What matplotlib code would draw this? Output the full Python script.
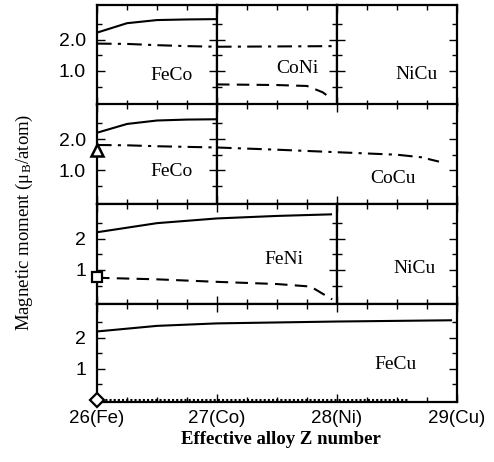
import matplotlib
matplotlib.use("Agg")
import matplotlib.pyplot as plt
from matplotlib.ticker import MultipleLocator, FixedLocator

plt.rcParams['font.family'] = ['Liberation Serif', 'DejaVu Serif']

# data
# panel 1: FeCo / CoNi / NiCu
feco1_z = [26, 26.25, 26.5, 26.75, 27]
feco1_spin = [2.22, 2.52, 2.62, 2.64, 2.65]
feco1_dd = [1.87, 1.86, 1.82, 1.79, 1.77]
coni_z_dd = [27, 27.5, 28]
coni_dd = [1.77, 1.78, 1.79]
coni_z_d = [27, 27.25, 27.5, 27.75, 27.88, 27.96]
coni_d = [0.57, 0.56, 0.55, 0.52, 0.32, 0.1]

# panel 2: FeCo / CoCu
feco2_z = [26, 26.25, 26.5, 26.75, 27]
feco2_spin = [2.2, 2.48, 2.59, 2.62, 2.63]
feco2_dd = [1.81, 1.80, 1.77, 1.75, 1.73]
cocu_z = [27, 27.5, 28, 28.5, 28.7, 28.85]
cocu_dd = [1.73, 1.66, 1.58, 1.5, 1.42, 1.28]
tri_z, tri_val = [26], [1.65]

# panel 3: FeNi / NiCu
feni_z = [26, 26.5, 27, 27.5, 27.95]
feni_solid = [2.2, 2.49, 2.64, 2.72, 2.77]
feni_z_d = [26, 26.5, 27, 27.5, 27.78, 27.96]
feni_d = [0.75, 0.7, 0.62, 0.55, 0.47, 0.06]
sq_z, sq_val = [26], [0.77]

# panel 4: FeCu
fecu_z = [26, 26.5, 27, 28, 28.95]
fecu_solid = [2.2, 2.38, 2.46, 2.52, 2.56]
fecu_z_dot = [26, 27, 28, 28.6]
fecu_dot = [0.0, 0.0, 0.0, 0.0]
dia_z, dia_val = [26], [0.0]

xticks = [26, 27, 28, 29]
xticklabels = ["26(Fe)", "27(Co)", "28(Ni)", "29(Cu)"]

W, H = 494, 462
rows = [(5, 104.5), (104.5, 204), (204, 303.5), (303.5, 402)]
YLIM = (-0.07, 3.1)
sans = 'Liberation Sans'

fig = plt.figure(figsize=(W / 100, H / 100), dpi=100)


def make_ax(x0, x1, row, first=False, last=False, ylabels=("1.0", "2.0")):
    top, bot = rows[row]
    ax = fig.add_axes([(97 + (x0 - 26) * 120) / W, 1 - bot / H,
                       (x1 - x0) * 120 / W, (bot - top) / H])
    ax.set_xlim(x0, x1)
    ax.set_ylim(*YLIM)
    ax.xaxis.set_major_locator(FixedLocator([x for x in xticks if x0 <= x <= x1]))
    ax.xaxis.set_minor_locator(MultipleLocator(0.25))
    ax.yaxis.set_major_locator(FixedLocator([1, 2]))
    ax.yaxis.set_minor_locator(FixedLocator([0.5, 1.5, 2.5]))
    ax.tick_params(which='both', direction='in', top=True, right=True, width=1)
    ax.tick_params(which='major', length=6)
    ax.tick_params(which='minor', length=3.5)
    for s in ax.spines.values():
        s.set_linewidth(1.6)
    if first:
        ax.set_yticklabels(ylabels, fontfamily=sans, fontsize=14)
        ax.tick_params(axis='y', pad=8)
    else:
        ax.set_yticklabels([])
    if last:
        ax.set_xticklabels([l for x, l in zip(xticks, xticklabels) if x0 <= x <= x1],
                           fontfamily=sans, fontsize=13.5)
        ax.tick_params(axis='x', pad=6)
    else:
        ax.set_xticklabels([])
    return ax


dd = (0, (7, 3, 1.5, 3))
dsh = (0, (6, 3.5))
lw = 1.5
fs = 14

# panel 1
a = make_ax(26, 27, 0, first=True)
a.plot(feco1_z, feco1_spin, color='black', lw=lw)
a.plot(feco1_z, feco1_dd, color='black', lw=lw, linestyle=dd)
a.text(26.62, 0.84, "FeCo", ha='center', va='center', fontsize=fs)
a = make_ax(27, 28, 0)
a.plot(coni_z_dd, coni_dd, color='black', lw=lw, linestyle=dd)
a.plot(coni_z_d, coni_d, color='black', lw=lw, linestyle=dsh)
a.text(27.67, 1.09, "CoNi", ha='center', va='center', fontsize=fs)
a = make_ax(28, 29, 0)
a.text(28.66, 0.9, "NiCu", ha='center', va='center', fontsize=fs)

# panel 2
a = make_ax(26, 27, 1, first=True)
a.plot(feco2_z, feco2_spin, color='black', lw=lw)
a.plot(feco2_z, feco2_dd, color='black', lw=lw, linestyle=dd)
a.plot(tri_z, tri_val, marker='^', ms=9, mfc='white', mec='black', mew=1.8,
       linestyle='none', clip_on=False, zorder=5)
a.text(26.62, 0.95, "FeCo", ha='center', va='center', fontsize=fs)
a = make_ax(27, 29, 1)
a.plot(cocu_z, cocu_dd, color='black', lw=lw, linestyle=dd)
a.text(28.47, 0.73, "CoCu", ha='center', va='center', fontsize=fs)

# panel 3
a = make_ax(26, 28, 2, first=True, ylabels=("1", "2"))
a.plot(feni_z, feni_solid, color='black', lw=lw)
a.plot(feni_z_d, feni_d, color='black', lw=lw, linestyle=dsh)
a.plot(sq_z, sq_val, marker='s', ms=7, mfc='white', mec='black', mew=1.6,
       linestyle='none', clip_on=False, zorder=5)
a.text(27.56, 1.32, "FeNi", ha='center', va='center', fontsize=fs)
a = make_ax(28, 29, 2)
a.text(28.65, 1.03, "NiCu", ha='center', va='center', fontsize=fs)

# panel 4
a = make_ax(26, 29, 3, first=True, last=True, ylabels=("1", "2"))
a.plot(fecu_z, fecu_solid, color='black', lw=lw)
a.plot(fecu_z_dot, fecu_dot, color='black', lw=1.5, linestyle=(0, (1, 1)))
a.plot(dia_z, dia_val, marker='D', ms=7, mfc='white', mec='black', mew=1.6,
       linestyle='none', clip_on=False, zorder=5)
a.text(28.49, 1.13, "FeCu", ha='center', va='center', fontsize=fs)

fig.text(24 / W, 1 - 222 / H, r"Magnetic moment ($\mathregular{\mu_B}$/atom)",
         rotation=90, ha='center', va='center', fontsize=13.5)
fig.text(281 / W, 1 - 439 / H, "Effective alloy Z number", ha='center', va='center',
         fontsize=13.5, fontweight='bold')

fig.savefig("out.png", dpi=100)
